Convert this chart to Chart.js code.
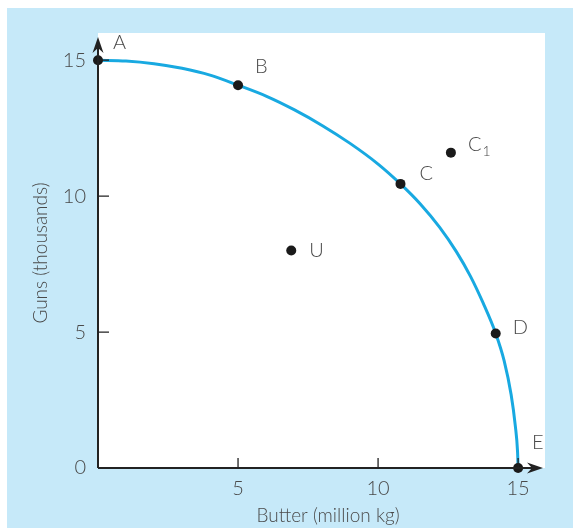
<!DOCTYPE html>
<html>
<head>
<meta charset="utf-8">
<script src="https://cdn.jsdelivr.net/npm/chart.js@4.4.1/dist/chart.umd.min.js"></script>
<style>
  html, body { margin: 0; padding: 0; background: #ffffff; }
  #wrap { width: 573px; height: 528px; }
</style>
</head>
<body>
<div id="wrap"><canvas id="ppf" width="573" height="528"></canvas></div>
<script>
// Production possibility frontier: butter (million kg) vs guns (thousands)
const curveButter = [0, 1, 2, 3, 4, 5, 6, 7, 8, 9, 10, 10.8, 11.5, 12.2, 12.8, 13.3, 13.75, 14.2, 14.5, 14.75, 14.9, 14.98, 15];
const curveGuns   = [15, 14.97, 14.87, 14.70, 14.45, 14.08, 13.68, 13.18, 12.6, 11.94, 11.18, 10.45, 9.72, 8.85, 7.95, 7.05, 6.07, 4.95, 3.95, 2.7, 1.55, 0.6, 0];

const pointNames  = ['A', 'B', 'C', 'C1', 'D', 'E', 'U'];
const pointButter = [0, 5, 10.8, 12.6, 14.2, 15, 6.9];
const pointGuns   = [15, 14.08, 10.45, 11.6, 4.95, 0, 8];

const xTickValues = [5, 10, 15];
const yTickValues = [0, 5, 10, 15];

const xTitle = 'Butter (million kg)';
const yTitle = 'Guns (thousands)';

// label placement relative to each point, in pixels
const labelOffsets = {
  A: [15, -18], B: [17, -19], C: [19, -10], C1: [17, -8],
  D: [17, -6], E: [14, -25], U: [18, 0]
};

const BG = '#c6e9f9';
const CURVE = '#18a9e1';
const INK = '#222222';
const TEXT = '#4a4a4a';
const FONT = 'Lato, "Open Sans", sans-serif';

const decorations = {
  id: 'decorations',
  beforeDraw(chart) {
    const { ctx, chartArea: a } = chart;
    ctx.save();
    ctx.fillStyle = '#ffffff';
    ctx.fillRect(0, 0, chart.width, chart.height);
    ctx.fillStyle = BG;
    ctx.fillRect(7, 8, chart.width - 7, chart.height - 8);
    ctx.fillStyle = '#ffffff';
    ctx.fillRect(a.left, a.top, a.right - a.left, a.bottom - a.top);
    ctx.restore();
  },
  afterDatasetsDraw(chart) {
    const { ctx, chartArea: a, scales } = chart;
    const x = scales.x, y = scales.y;
    const x0 = x.getPixelForValue(0), y0 = y.getPixelForValue(0);
    ctx.save();
    // axes
    ctx.strokeStyle = INK;
    ctx.lineWidth = 2;
    ctx.beginPath();
    ctx.moveTo(x0, y0);
    ctx.lineTo(x0, a.top + 12);
    ctx.moveTo(x0, y0);
    ctx.lineTo(a.right - 10, y0);
    ctx.stroke();
    // inward tick marks
    ctx.lineWidth = 1.3;
    ctx.beginPath();
    xTickValues.forEach(v => {
      const px = x.getPixelForValue(v);
      ctx.moveTo(px, y0);
      ctx.lineTo(px, y0 - 10);
    });
    yTickValues.forEach(v => {
      if (v === 0) return;
      const py = y.getPixelForValue(v);
      ctx.moveTo(x0, py);
      ctx.lineTo(x0 + 11, py);
    });
    ctx.stroke();
    // arrow heads
    ctx.fillStyle = INK;
    ctx.beginPath();
    ctx.moveTo(x0, a.top + 4);
    ctx.lineTo(x0 + 5.5, a.top + 20);
    ctx.lineTo(x0, a.top + 15);
    ctx.lineTo(x0 - 5.5, a.top + 20);
    ctx.closePath();
    ctx.fill();
    ctx.beginPath();
    ctx.moveTo(a.right - 2, y0);
    ctx.lineTo(a.right - 18, y0 - 5.5);
    ctx.lineTo(a.right - 13, y0);
    ctx.lineTo(a.right - 18, y0 + 5.5);
    ctx.closePath();
    ctx.fill();
    // axis titles
    ctx.fillStyle = TEXT;
    ctx.font = '300 19px ' + FONT;
    ctx.textAlign = 'center';
    ctx.textBaseline = 'middle';
    ctx.fillText(xTitle, 328, 516);
    ctx.translate(41, 253);
    ctx.rotate(-Math.PI / 2);
    ctx.fillText(yTitle, 0, 0);
    ctx.restore();
  },
  afterDraw(chart) {
    const { ctx } = chart;
    const meta = chart.getDatasetMeta(1);
    ctx.save();
    ctx.fillStyle = TEXT;
    ctx.textAlign = 'left';
    ctx.textBaseline = 'middle';
    meta.data.forEach((el, i) => {
      const name = pointNames[i];
      const off = labelOffsets[name];
      const lx = el.x + off[0], ly = el.y + off[1];
      ctx.font = '300 20px ' + FONT;
      if (name.length > 1) {
        ctx.fillText(name[0], lx, ly);
        const w = ctx.measureText(name[0]).width;
        ctx.font = '300 14px ' + FONT;
        ctx.fillText(name.slice(1), lx + w + 1, ly + 7);
      } else {
        ctx.fillText(name, lx, ly);
      }
    });
    ctx.restore();
  }
};

const curveData = curveButter.map((b, i) => ({ x: b, y: curveGuns[i] }));
const pointData = pointButter.map((b, i) => ({ x: b, y: pointGuns[i] }));

new Chart(document.getElementById('ppf'), {
  type: 'scatter',
  data: {
    datasets: [
      {
        label: 'Frontier',
        data: curveData,
        showLine: true,
        borderColor: CURVE,
        borderWidth: 3,
        pointRadius: 0,
        cubicInterpolationMode: 'monotone',
        fill: false,
        clip: false,
        order: 2
      },
      {
        label: 'Combinations',
        data: pointData,
        showLine: false,
        pointRadius: 5,
        pointHoverRadius: 5,
        pointBackgroundColor: '#1a1a1a',
        pointBorderWidth: 0,
        clip: false,
        order: 1
      }
    ]
  },
  options: {
    responsive: false,
    animation: false,
    events: [],
    layout: { padding: { left: 0, top: 33, right: 28, bottom: 0 } },
    plugins: { legend: { display: false }, tooltip: { enabled: false } },
    scales: {
      x: {
        type: 'linear',
        min: 0,
        max: 15.96,
        afterBuildTicks(scale) { scale.ticks = xTickValues.map(v => ({ value: v })); },
        afterFit(scale) { scale.height = 60; },
        grid: { display: false, drawTicks: false },
        border: { display: false },
        ticks: {
          padding: 9,
          color: TEXT,
          font: { family: FONT, size: 20, weight: 300 },
          maxRotation: 0,
          autoSkip: false
        }
      },
      y: {
        type: 'linear',
        min: 0,
        max: 16,
        afterBuildTicks(scale) { scale.ticks = yTickValues.map(v => ({ value: v })); },
        afterFit(scale) { scale.width = 98; },
        grid: { display: false, drawTicks: false },
        border: { display: false },
        ticks: {
          padding: 12,
          color: TEXT,
          font: { family: FONT, size: 20, weight: 300 },
          autoSkip: false
        }
      }
    }
  },
  plugins: [decorations]
});
</script>
</body>
</html>
